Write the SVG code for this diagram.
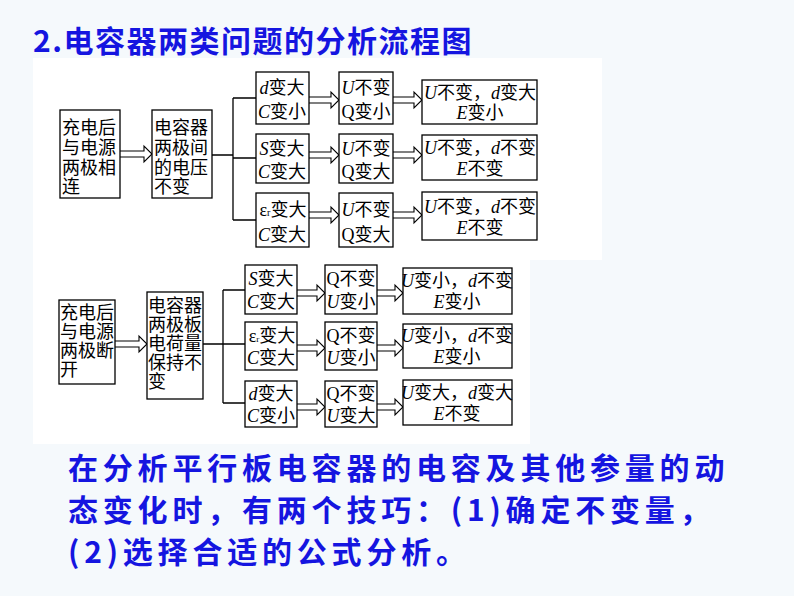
<svg xmlns="http://www.w3.org/2000/svg" width="794" height="596" viewBox="0 0 794 596">
<style>
.b{fill:#fff;stroke:#000;stroke-width:1.3}
.t{font-family:"Liberation Serif","Noto Sans CJK SC",serif;font-size:18px;fill:#000}
.c{text-anchor:middle}
.i{font-style:italic}
.ar{fill:#fff;stroke:#000;stroke-width:1.1}
.ln{fill:none;stroke:#000;stroke-width:1.3}
.h{font-family:"Noto Sans CJK SC","Liberation Sans",sans-serif;font-size:30px;fill:#1515e0;font-weight:bold}
</style>
<rect width="794" height="596" fill="#f5f9fc"/>
<rect x="33" y="58" width="569" height="202" fill="#fff"/>
<rect x="33" y="260" width="497" height="184" fill="#fff"/>
<text class="h" x="33" y="52" letter-spacing="1.5">2.电容器两类问题的分析流程图</text>
<g class="h" font-size="31" letter-spacing="4.8">
<text x="68" y="479">在分析平行板电容器的电容及其他参量的动</text>
<text x="68" y="521">态变化时，有两个技巧：(1)确定不变量，</text>
<text x="68" y="563">(2)选择合适的公式分析。</text>
</g>
<g id="connectors">
<path class="ln" d="M212 155H233M233 98V220M233 98H256M233 158H256M233 220H256"/>
<path class="ln" d="M203 344H223M223 290V403M223 290H245M223 344H245M223 403H245"/>
<path class="ar" d="M120 151H144V146L152 154L144 162V157H120"/>
<path class="ar" d="M309 97H331V92L339 100L331 108V103H309"/>
<path class="ar" d="M309 152H331V147L339 155L331 163V158H309"/>
<path class="ar" d="M309 212H331V207L339 215L331 223V218H309"/>
<path class="ar" d="M393 97H414V92L422 100L414 108V103H393"/>
<path class="ar" d="M393 152H414V147L422 155L414 163V158H393"/>
<path class="ar" d="M393 212H414V207L422 215L414 223V218H393"/>
<path class="ar" d="M115 341H139V336L147 344L139 352V347H115"/>
<path class="ar" d="M297 290H317V285L325 293L317 301V296H297"/>
<path class="ar" d="M297 345H317V340L325 348L317 356V351H297"/>
<path class="ar" d="M297 404H317V399L325 407L317 415V410H297"/>
<path class="ar" d="M377 290H395V285L403 293L395 301V296H377"/>
<path class="ar" d="M377 345H395V340L403 348L395 356V351H377"/>
<path class="ar" d="M377 404H395V399L403 407L395 415V410H377"/>
</g>
<g id="t1"><rect class="b" x="60" y="110" width="60" height="88"/><text class="t" font-size="19"><tspan x="62" y="134">充电后</tspan><tspan x="62" y="154">与电源</tspan><tspan x="62" y="174">两极相</tspan><tspan x="62" y="193">连</tspan></text></g>
<g id="t2"><rect class="b" x="152" y="110" width="60" height="88"/><text class="t" font-size="19"><tspan x="154" y="134">电容器</tspan><tspan x="154" y="154">两极间</tspan><tspan x="154" y="174">的电压</tspan><tspan x="154" y="193">不变</tspan></text></g>
<g id="t3a"><rect class="b" x="256" y="72" width="53" height="52"/><text class="t c"><tspan x="282" y="94"><tspan class="i">d</tspan>变大</tspan><tspan x="282" y="118"><tspan class="i">C</tspan>变小</tspan></text></g>
<g id="t3b"><rect class="b" x="256" y="134" width="53" height="49"/><text class="t c"><tspan x="282" y="155"><tspan class="i">S</tspan>变大</tspan><tspan x="282" y="178"><tspan class="i">C</tspan>变大</tspan></text></g>
<g id="t3c"><rect class="b" x="256" y="193" width="53" height="54"/><text class="t c"><tspan x="283" y="216">ε<tspan font-size="10">r</tspan>变大</tspan><tspan x="282" y="241"><tspan class="i">C</tspan>变大</tspan></text></g>
<g id="t4a"><rect class="b" x="339" y="72" width="54" height="52"/><text class="t c"><tspan x="366" y="94"><tspan class="i">U</tspan>不变</tspan><tspan x="366" y="118">Q变小</tspan></text></g>
<g id="t4b"><rect class="b" x="339" y="134" width="54" height="49"/><text class="t c"><tspan x="366" y="155"><tspan class="i">U</tspan>不变</tspan><tspan x="366" y="178">Q变大</tspan></text></g>
<g id="t4c"><rect class="b" x="339" y="193" width="54" height="54"/><text class="t c"><tspan x="366" y="216"><tspan class="i">U</tspan>不变</tspan><tspan x="366" y="241">Q变大</tspan></text></g>
<g id="t5a"><rect class="b" x="422" y="80" width="115" height="44"/><text class="t c"><tspan x="480" y="99"><tspan class="i">U</tspan>不变，<tspan class="i">d</tspan>变大</tspan><tspan x="480" y="119"><tspan class="i">E</tspan>变小</tspan></text></g>
<g id="t5b"><rect class="b" x="422" y="135" width="115" height="45"/><text class="t c"><tspan x="480" y="154"><tspan class="i">U</tspan>不变，<tspan class="i">d</tspan>不变</tspan><tspan x="480" y="175"><tspan class="i">E</tspan>不变</tspan></text></g>
<g id="t5c"><rect class="b" x="422" y="192" width="115" height="48"/><text class="t c"><tspan x="480" y="213"><tspan class="i">U</tspan>不变，<tspan class="i">d</tspan>不变</tspan><tspan x="480" y="234"><tspan class="i">E</tspan>不变</tspan></text></g>
<g id="b1"><rect class="b" x="59" y="300" width="56" height="84"/><text class="t" font-size="18"><tspan x="60" y="319">充电后</tspan><tspan x="60" y="338">与电源</tspan><tspan x="60" y="357">两极断</tspan><tspan x="60" y="376">开</tspan></text></g>
<g id="b2"><rect class="b" x="147" y="292" width="56" height="107"/><text class="t" font-size="18"><tspan x="148" y="312">电容器</tspan><tspan x="148" y="331">两极板</tspan><tspan x="148" y="350">电荷量</tspan><tspan x="148" y="369">保持不</tspan><tspan x="148" y="388">变</tspan></text></g>
<g id="b3a"><rect class="b" x="245" y="265" width="52" height="49"/><text class="t c" font-size="17"><tspan x="271" y="285"><tspan class="i">S</tspan>变大</tspan><tspan x="271" y="308"><tspan class="i">C</tspan>变大</tspan></text></g>
<g id="b3b"><rect class="b" x="245" y="322" width="52" height="48"/><text class="t c" font-size="17"><tspan x="272" y="342">ε<tspan font-size="9">r</tspan>变大</tspan><tspan x="271" y="364"><tspan class="i">C</tspan>变大</tspan></text></g>
<g id="b3c"><rect class="b" x="245" y="381" width="52" height="46"/><text class="t c" font-size="17"><tspan x="271" y="400"><tspan class="i">d</tspan>变大</tspan><tspan x="271" y="422"><tspan class="i">C</tspan>变小</tspan></text></g>
<g id="b4a"><rect class="b" x="325" y="265" width="52" height="49"/><text class="t c" font-size="17"><tspan x="351" y="285">Q不变</tspan><tspan x="351" y="308"><tspan class="i">U</tspan>变小</tspan></text></g>
<g id="b4b"><rect class="b" x="325" y="322" width="52" height="48"/><text class="t c" font-size="17"><tspan x="351" y="342">Q不变</tspan><tspan x="351" y="364"><tspan class="i">U</tspan>变小</tspan></text></g>
<g id="b4c"><rect class="b" x="325" y="381" width="52" height="46"/><text class="t c" font-size="17"><tspan x="351" y="400">Q不变</tspan><tspan x="351" y="422"><tspan class="i">U</tspan>变大</tspan></text></g>
<g id="b5a"><rect class="b" x="403" y="268" width="109" height="46"/><text class="t c" font-size="17"><tspan x="457" y="287"><tspan class="i">U</tspan>变小，<tspan class="i">d</tspan>不变</tspan><tspan x="457" y="308"><tspan class="i">E</tspan>变小</tspan></text></g>
<g id="b5b"><rect class="b" x="403" y="324" width="109" height="44"/><text class="t c" font-size="17"><tspan x="457" y="342"><tspan class="i">U</tspan>变小，<tspan class="i">d</tspan>不变</tspan><tspan x="457" y="363"><tspan class="i">E</tspan>变小</tspan></text></g>
<g id="b5c"><rect class="b" x="403" y="380" width="109" height="45"/><text class="t c" font-size="17"><tspan x="457" y="399"><tspan class="i">U</tspan>变大，<tspan class="i">d</tspan>变大</tspan><tspan x="457" y="420"><tspan class="i">E</tspan>不变</tspan></text></g>
</svg>
